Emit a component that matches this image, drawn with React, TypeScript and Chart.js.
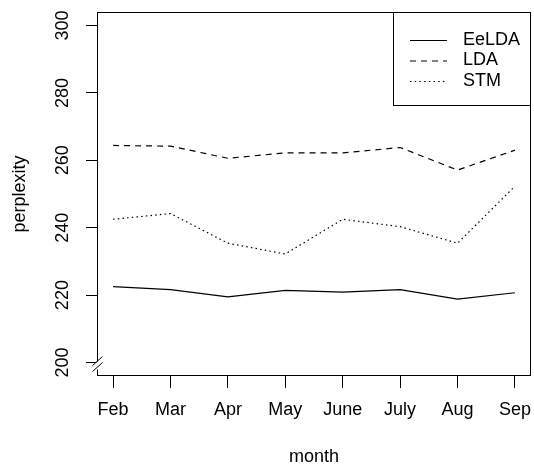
import React, { useEffect, useRef } from "react";
import { Chart, registerables } from "chart.js";

Chart.register(...registerables);

// Monthly perplexity for three topic models
const months = ["Feb", "Mar", "Apr", "May", "June", "July", "Aug", "Sep"];
const eelda = [222.5, 221.6, 219.5, 221.4, 220.9, 221.6, 218.8, 220.7];
const lda = [264.4, 264.2, 260.6, 262.2, 262.2, 263.8, 257.1, 263.0];
const stm = [242.5, 244.2, 235.4, 232.2, 242.5, 240.3, 235.4, 252.3];
const yTicks = [200, 220, 240, 260, 280, 300];
const seriesNames = ["EeLDA", "LDA", "STM"];

const FONT = "'Liberation Sans', Arial, Helvetica, sans-serif";
const FONT_SIZE = 18;

const toPoints = (vals: number[]) => vals.map((v, i) => ({ x: i + 1, y: v }));

// Keep the plot region fixed: no extra room reserved for label overhang
const noOverhang = (s: any) => {
  s.paddingTop = 0;
  s.paddingBottom = 0;
  s.paddingLeft = 0;
  s.paddingRight = 0;
};

// Frame, axis break and legend box in the style of a base R plot
const framePlugin = {
  id: "rFrame",
  afterDraw(chart: any) {
    const { ctx, chartArea: a } = chart;
    const yScale = chart.scales.y;
    ctx.save();
    ctx.strokeStyle = "#000";
    ctx.lineWidth = 1;
    ctx.strokeRect(a.left + 0.5, a.top + 0.5, a.right - a.left - 1, a.bottom - a.top - 1);

    // axis break marks on the y axis just below the lowest tick
    const yb = yScale.getPixelForValue(yTicks[0]) + 3;
    const x0 = a.left + 0.5;
    ctx.fillStyle = "#fff";
    ctx.fillRect(x0 - 1, yb - 4, 2, 8);
    ctx.beginPath();
    ctx.moveTo(x0 - 5, yb + 0);
    ctx.lineTo(x0 + 5, yb - 9);
    ctx.moveTo(x0 - 5, yb + 6);
    ctx.lineTo(x0 + 5, yb - 3);
    ctx.stroke();

    // legend
    const lx = 393, ly = a.top, lw = a.right - 393, lh = 94;
    ctx.fillStyle = "#fff";
    ctx.fillRect(lx, ly, lw, lh);
    ctx.strokeRect(lx + 0.5, ly + 0.5, lw - 1, lh - 1);
    ctx.font = `${FONT_SIZE}px ${FONT}`;
    ctx.textBaseline = "middle";
    ctx.textAlign = "left";
    chart.data.datasets.forEach((ds: any, i: number) => {
      const ry = ly + 28 + i * 20.5;
      ctx.setLineDash(ds.borderDash || []);
      ctx.lineWidth = ds.borderWidth;
      ctx.beginPath();
      ctx.moveTo(lx + 17, ry + 0.5);
      ctx.lineTo(lx + 54, ry + 0.5);
      ctx.stroke();
      ctx.setLineDash([]);
      ctx.fillStyle = "#000";
      ctx.fillText(ds.label, lx + 70, ry);
    });
    ctx.restore();
  },
};

export default function App() {
  const ref = useRef<HTMLCanvasElement>(null);

  useEffect(() => {
    if (!ref.current) return;
    const base = { borderColor: "#000", borderWidth: 1.2, pointRadius: 0, fill: false, tension: 0 };
    const chart = new Chart(ref.current, {
      type: "line",
      data: {
        datasets: [
          { ...base, label: seriesNames[0], data: toPoints(eelda), borderDash: [] },
          { ...base, label: seriesNames[1], data: toPoints(lda), borderDash: [6, 5] },
          { ...base, label: seriesNames[2], data: toPoints(stm), borderDash: [1.5, 3.2] },
        ],
      },
      options: {
        animation: false,
        responsive: false,
        devicePixelRatio: 1,
        layout: { padding: { top: 12, right: 3, left: 0, bottom: 0 } },
        plugins: { legend: { display: false }, tooltip: { enabled: false } },
        scales: {
          x: {
            type: "linear",
            min: 0.72,
            max: 8.28,
            afterBuildTicks: (s: any) => {
              s.ticks = months.map((_, i) => ({ value: i + 1 }));
            },
            afterFit: (s: any) => {
              s.height = 90;
              noOverhang(s);
            },
            grid: { drawOnChartArea: false, drawTicks: true, tickLength: 12, color: "#000", lineWidth: 1 },
            border: { display: false },
            ticks: {
              color: "#000",
              font: { family: FONT, size: FONT_SIZE },
              padding: 11,
              maxRotation: 0,
              autoSkip: false,
              callback: (v: any) => months[Number(v) - 1] ?? "",
            },
            title: {
              display: true,
              text: "month",
              color: "#000",
              font: { family: FONT, size: FONT_SIZE, lineHeight: 1 },
              padding: { top: 0, bottom: 0 },
            },
          },
          y: {
            min: 196,
            max: 304,
            afterBuildTicks: (s: any) => {
              s.ticks = yTicks.map((v) => ({ value: v }));
            },
            afterFit: (s: any) => {
              s.width = 97;
              noOverhang(s);
            },
            grid: { drawOnChartArea: false, drawTicks: true, tickLength: 11, color: "#000", lineWidth: 1 },
            border: { display: false },
            ticks: {
              color: "#000",
              font: { family: FONT, size: FONT_SIZE },
              padding: 8,
              minRotation: 90,
              maxRotation: 90,
              crossAlign: "center",
              autoSkip: false,
            },
            title: {
              display: true,
              text: "perplexity",
              color: "#000",
              font: { family: FONT, size: FONT_SIZE, lineHeight: 1 },
              padding: { top: 11, bottom: 0 },
            },
          },
        },
      },
      plugins: [framePlugin],
    });
    return () => chart.destroy();
  }, []);

  return (
    <div style={{ position: "fixed", left: 0, top: 0, width: 534, height: 466, background: "#fff" }}>
      <canvas ref={ref} width={534} height={466} />
    </div>
  );
}
